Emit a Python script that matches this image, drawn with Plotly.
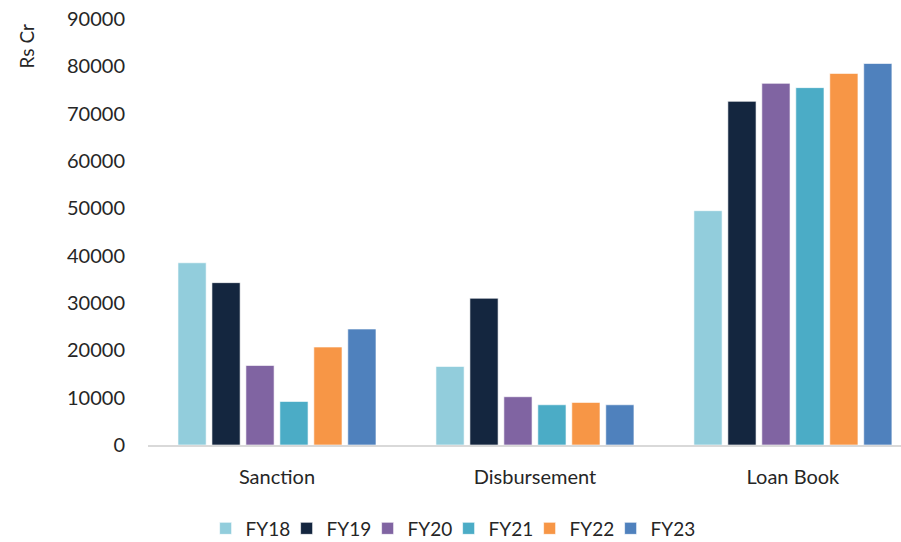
import plotly.graph_objects as go

# Categories and yearly values (Rs Cr)
categories = ["Sanction", "Disbursement", "Loan Book"]
years = ["FY18", "FY19", "FY20", "FY21", "FY22", "FY23"]
fy18 = [38500, 16600, 49500]
fy19 = [34300, 31000, 72600]
fy20 = [16800, 10200, 76400]
fy21 = [9200, 8500, 75500]
fy22 = [20700, 9000, 78500]
fy23 = [24500, 8500, 80600]
y_ticks = [0, 10000, 20000, 30000, 40000, 50000, 60000, 70000, 80000, 90000]

series = [fy18, fy19, fy20, fy21, fy22, fy23]
colors = ["#92CDDC", "#14263F", "#8064A2", "#4BACC6", "#F79646", "#4F81BD"]

FONT = "Lato"
TEXT = "#262626"

fig = go.Figure()
for name, vals, col in zip(years, series, colors):
    fig.add_trace(go.Bar(
        name=name, x=categories, y=vals,
        marker=dict(color=col, line=dict(color="rgba(255,255,255,0.6)", width=1)),
    ))

# Blank trailing legend slot so the last label has room with fixed-width entries
fig.add_trace(go.Scatter(
    x=[None], y=[None], mode="markers", name="",
    marker=dict(color="rgba(0,0,0,0)", size=1, line=dict(width=0)),
    hoverinfo="skip", showlegend=True,
))

fig.update_layout(
    width=901, height=542,
    margin=dict(l=148, r=0, t=19, b=97, autoexpand=False),
    paper_bgcolor="white", plot_bgcolor="white",
    barmode="group", bargap=0.21, bargroupgap=0.17,
    font=dict(family=FONT, size=20, color=TEXT),
    showlegend=True,
    legend=dict(
        orientation="h", x=0.453, xanchor="center", y=-0.196, yanchor="middle",
        font=dict(family=FONT, size=19, color=TEXT),
        itemwidth=30, traceorder="normal",
        entrywidth=36, entrywidthmode="pixels",
    ),
    xaxis=dict(
        type="category", range=[-0.5, 2.419],
        showline=True, linecolor="#D9D9D9", linewidth=2,
        showgrid=False, ticks="", ticklabelstandoff=13,
        tickfont=dict(family=FONT, size=20, color=TEXT),
    ),
    yaxis=dict(
        range=[0, 90000], tickvals=y_ticks,
        ticktext=[str(v) for v in y_ticks],
        showgrid=False, zeroline=False, showline=False, ticks="",
        ticklabelstandoff=22,
        tickfont=dict(family=FONT, size=20, color=TEXT),
    ),
    annotations=[dict(
        text="Rs Cr", textangle=-90, xref="paper", yref="paper",
        x=-0.161, y=0.935, xanchor="center", yanchor="middle",
        showarrow=False, font=dict(family=FONT, size=19, color=TEXT),
    )],
)

fig.write_html("out.html")
